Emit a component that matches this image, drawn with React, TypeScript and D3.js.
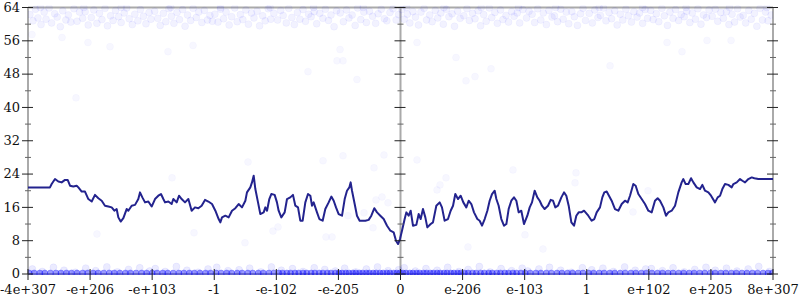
import React from "react";
import * as d3 from "d3";

const xTickLabels = ["-4e+307","-e+206","-e+103","-1","-e-102","-e-205","0","e-206","e-103","1","e+102","e+205","8e+307"];
const yTicks = [0, 8, 16, 24, 32, 40, 48, 56, 64];
const yMinorTicks = [4, 12, 20, 28, 36, 44, 52, 60];

const lineU = [0,0.354,0.381,0.435,0.489,0.542,0.596,0.639,0.677,0.730,0.784,0.811,0.865,0.918,0.972,1.026,1.079,1.133,1.187,1.240,1.294,1.348,1.391,1.428,1.455,1.493,1.536,1.589,1.616,1.670,1.724,1.777,1.804,1.842,1.885,1.938,1.992,2.046,2.099,2.142,2.180,2.207,2.261,2.314,2.341,2.395,2.432,2.475,2.529,2.583,2.636,2.690,2.744,2.797,2.851,2.905,
2.964,3.018,3.071,3.098,3.125,3.179,3.232,3.286,3.340,3.393,3.447,3.501,3.527,3.581,3.608,3.635,3.662,3.705,3.742,3.796,3.823,3.850,3.887,3.919,3.973,4.010,4.037,4.080,4.134,4.172,4.225,4.268,4.306,4.349,4.386,4.424,4.467,4.510,4.548,4.574,4.601,4.655,4.693,4.746,4.789,4.843,4.886,4.924,4.961,5.004,5.058,5.101,5.138,5.176,5.197,5.219,5.262,5.299,5.342,5.380,5.434,5.487,5.530,5.579,5.622,5.675,5.729,5.783,5.837,5.890,5.928,5.960,5.992,
6.024,6.067,6.094,6.132,6.164,6.201,6.255,6.293,6.325,6.362,6.400,6.432,6.486,6.523,6.577,6.631,6.668,6.711,6.765,6.808,6.846,6.883,6.926,6.969,7.012,7.060,7.098,7.141,7.184,7.238,7.275,7.313,7.356,7.399,7.436,7.474,7.517,7.544,7.581,7.624,7.667,7.705,7.742,7.785,7.828,7.866,7.903,7.946,7.989,8.043,8.081,8.118,8.161,8.204,8.242,8.279,8.322,8.376,8.419,8.457,8.494,8.537,8.591,8.634,8.671,8.709,8.752,8.795,8.832,8.870,8.913,8.956,
9.025,9.079,9.122,9.160,9.213,9.251,9.283,9.321,9.358,9.401,9.455,9.509,9.563,9.616,9.659,9.697,9.750,9.788,9.831,9.885,9.938,9.992,10.046,10.099,10.142,10.180,10.234,10.277,10.314,10.368,10.422,10.475,10.529,10.556,10.593,10.636,10.680,10.717,10.771,10.825,10.862,10.905,10.959,11.002,11.066,11.109,11.147,11.184,11.227,11.281,11.335,11.362,11.416,11.469,11.507,11.550,11.603,11.657,11.700,11.764,12];
const lineV = [20.8,20.8,21.6,22.8,22.2,22.0,22.6,22.6,21.2,21.0,21.2,20.8,19.8,19.8,18.0,17.4,19.0,18.2,17.6,16.4,16.2,16.0,15.2,15.6,13.6,12.6,13.4,15.6,15.2,16.4,16.6,18.0,19.6,18.4,17.2,17.4,16.2,18.0,18.8,19.2,18.0,17.2,17.4,16.8,18.0,17.2,18.8,18.0,17.2,18.0,15.2,16.0,15.8,16.4,17.8,17.4,
16.8,15.2,13.2,12.4,13.6,14.0,13.6,15.2,15.8,16.8,16.0,17.6,19.6,20.8,22.0,23.6,20.4,17.2,14.4,14.8,16.0,15.2,18.0,19.2,19.0,17.2,15.2,13.6,14.8,18.0,18.4,19.0,16.4,16.0,12.8,12.8,17.2,19.2,18.8,16.4,17.2,14.8,13.2,12.8,15.6,17.2,18.6,17.6,16.0,14.4,14.0,18.0,20.0,20.8,22.0,20.0,16.8,14.0,12.8,12.8,12.8,13.0,14.0,15.8,14.8,14.0,13.2,11.6,10.4,10.0,8.0,7.2,8.4,
10.4,13.2,14.8,14.0,15.2,11.6,11.8,14.4,13.2,15.6,13.6,11.2,12.0,12.4,16.4,17.2,16.0,12.8,13.2,15.2,16.4,19.2,18.0,18.8,17.2,16.0,17.6,16.8,14.8,13.2,12.8,11.6,13.2,15.2,17.6,19.2,20.0,18.0,16.4,13.2,11.6,12.0,15.6,17.6,18.4,17.6,14.8,15.2,12.0,14.0,16.0,17.2,20.0,18.4,17.6,16.4,15.6,16.4,17.8,17.6,16.0,16.4,18.4,19.6,18.8,16.4,12.4,11.6,14.0,14.8,14.8,15.2,
14.0,12.8,13.2,14.8,16.0,18.4,19.6,19.8,18.8,17.6,15.6,15.2,16.8,17.6,17.2,18.8,21.6,21.2,19.2,18.0,16.8,15.2,14.8,17.6,18.2,17.6,16.0,14.0,14.8,15.2,16.4,19.6,22.0,22.8,21.6,21.6,23.0,22.0,20.8,20.4,21.4,20.0,19.6,18.8,17.2,18.4,18.8,20.4,21.6,21.4,20.8,21.6,22.0,22.8,22.4,22.0,22.8,23.2,23.0,22.8,22.8];

const topU = [0.03,0.08,0.12,0.16,0.21,0.26,0.29,0.34,0.38,0.43,0.47,0.52,0.56,0.61,0.65,0.69,0.74,0.79,0.83,0.88,0.92,0.97,
1.02,1.06,1.11,1.15,1.19,1.24,1.28,1.33,1.37,1.41,1.46,1.5,1.55,1.59,1.63,1.68,1.72,1.77,1.81,1.86,1.9,1.95,1.98,
2.04,2.09,2.13,2.18,2.22,2.27,2.31,2.35,2.4,2.44,2.49,2.53,2.57,2.62,2.66,2.71,2.75,2.8,2.84,2.89,2.93,2.97,
3.01,3.06,3.1,3.15,3.19,3.24,3.28,3.33,3.37,3.42,3.46,3.51,3.55,3.6,3.64,3.69,3.73,3.78,3.82,3.87,3.91,3.96,
4.02,4.07,4.11,4.16,4.2,4.25,4.29,4.34,4.38,4.43,4.47,4.52,4.56,4.61,4.65,4.7,4.75,4.79,4.84,4.88,4.93,4.97,
5.03,5.08,5.13,5.17,5.22,5.27,5.31,5.36,5.41,5.45,5.5,5.55,5.6,5.64,5.69,5.74,5.78,5.83,5.88,5.93,5.97,
6.02,6.06,6.11,6.15,6.2,6.24,6.29,6.33,6.38,6.42,6.47,6.51,6.56,6.6,6.65,6.69,6.74,6.78,6.83,6.87,6.92,6.96,
7.02,7.07,7.11,7.16,7.2,7.25,7.29,7.34,7.38,7.43,7.47,7.52,7.56,7.61,7.65,7.7,7.74,7.79,7.83,7.88,7.92,7.97,
8.03,8.07,8.12,8.16,8.21,8.26,8.3,8.35,8.39,8.44,8.48,8.53,8.58,8.62,8.67,8.71,8.76,8.8,8.85,8.9,8.94,8.98,
9.04,9.09,9.13,9.18,9.22,9.27,9.31,9.36,9.4,9.45,9.49,9.54,9.58,9.63,9.67,9.72,9.76,9.81,9.85,9.9,9.94,9.98,
10.03,10.07,10.12,10.16,10.21,10.25,10.3,10.34,10.39,10.43,10.48,10.52,10.57,10.61,10.66,10.7,10.75,10.79,10.84,10.88,10.93,10.97,
11.02,11.07,11.11,11.16,11.2,11.25,11.29,11.34,11.38,11.43,11.47,11.52,11.56,11.61,11.65,11.7,11.74,11.79,11.83,11.88,11.92,11.97,
0.2,0.9,1.5,2.3,3.1,3.9,4.6,5.4,6.1,6.7,7.3,7.9,8.5,9.2,9.9,10.6,11.3,11.9];
const topV = [62.3,60.8,63.6,61.5,59.9,62.9,61.2,63.9,60.3,62.5,61.7,59.4,63.2,61.0,62.2,60.5,63.7,60.7,62.9,61.4,63.0,59.8,
61.6,63.4,60.2,62.6,61.1,63.8,59.6,62.0,60.9,63.3,61.8,60.4,62.7,63.9,61.3,59.9,62.4,60.8,63.5,61.9,60.1,62.8,61.2,
63.1,61.4,59.7,62.6,60.6,63.7,61.9,60.2,62.8,61.1,63.5,59.5,62.2,60.9,63.8,61.6,62.9,60.4,63.3,61.0,62.1,60.7,
62.4,60.5,63.6,61.3,62.9,59.8,61.8,63.9,60.6,62.3,61.1,63.4,60.0,62.7,61.5,63.1,59.6,62.0,60.8,63.7,61.2,62.6,
61.0,63.3,62.1,60.3,63.8,61.6,59.9,62.8,61.2,63.5,60.7,62.4,61.8,63.0,60.1,62.6,61.4,63.6,60.9,62.2,59.4,63.2,
62.7,60.6,63.4,61.5,62.2,59.7,63.9,61.1,62.9,60.4,63.1,61.9,60.2,62.5,63.6,61.3,60.8,62.8,63.7,61.0,62.3,
63.5,61.2,62.4,60.3,63.0,61.7,59.8,62.9,63.8,61.0,62.2,60.6,63.3,61.5,62.7,60.0,63.6,61.8,62.5,59.5,63.1,61.4,
62.0,63.7,60.9,62.6,61.3,63.2,59.6,62.3,60.7,63.9,61.6,62.8,60.2,63.4,61.1,62.1,60.5,63.0,61.9,62.7,60.3,63.5,
61.5,63.1,62.4,60.4,63.7,61.0,62.7,59.9,63.3,61.7,62.0,60.6,63.6,61.2,62.9,60.1,63.0,61.8,59.7,62.5,63.8,60.9,
62.6,60.3,63.4,61.6,62.1,63.9,60.8,62.8,61.3,63.2,59.8,62.4,61.0,63.6,62.0,60.5,63.0,61.7,62.7,60.2,63.5,61.4,
63.3,61.1,62.5,60.6,63.8,62.0,59.7,62.9,61.4,63.5,60.9,62.3,61.8,63.1,60.4,62.7,61.2,63.7,60.0,62.2,61.6,63.4,
61.9,63.6,60.7,62.8,61.4,63.0,59.9,62.4,60.5,63.7,61.7,62.1,60.3,63.3,61.2,62.6,59.5,63.8,61.0,62.9,60.8,62.2,
64,64,64,64,64,64,64,64,64,64,64,64,64,64,64,64,64,64];

const midU = [3.544,4.752,5.074,5.734,5.573,5.605,5.702,5.799,5.412,5.154,5.557,3.946,4.027,3.495,4.800,4.897,6.266,6.733,6.636,6.588,7.812,8.827,8.811,8.005,7.087,8.295,5.026,4.977,5.074,4.510,5.299,6.266,6.894,7.458,7.200,7.055,9.375,10.534,10.937,11.324,10.293,0.064,0.548,0.966,1.321,2.255,0.773,2.658,1.111,2.674,2.320,9.987,9.745];
const midV = [26.9,27.2,28.4,28.6,25.5,17.8,18.5,17.1,14.7,14.0,11.1,10.3,11.3,7.5,8.9,8.9,27.4,23.1,21.4,20.2,25.0,24.3,21.9,9.4,6.5,6.0,53.9,51.2,51.2,48.6,46.7,55.6,52.0,49.3,47.4,46.4,50.0,53.4,56.1,56.1,55.6,57.5,56.8,55.6,54.6,53.4,42.3,54.9,9.6,9.9,23.1,20.0,14.9];

const lowU = [0.07,0.23,0.41,0.58,0.76,0.93,1.09,1.27,1.44,1.62,1.8,1.96,2.05,2.21,2.39,2.56,2.74,2.9,3.04,3.22,3.4,3.57,3.75,3.92,4.08,4.26,4.43,4.61,4.78,4.95,5.1,5.28,5.45,5.63,5.8,5.97,6.06,6.24,6.41,6.59,6.76,6.94,7.09,7.27,7.44,7.62,7.79,7.96,8.05,8.23,8.4,8.58,8.75,8.93,9.08,9.26,9.43,9.61,9.78,9.95,10.04,10.22,10.39,10.57,10.74,10.92,11.07,11.25,11.42,11.6,11.77,11.94];
const lowV = [1.2,0.6,1.6,0.9,0.4,1.4,0.8,1.7,0.5,1.1,1.5,0.7,1.3,0.6,1.8,0.9,0.4,1.2,1.6,0.8,1.0,1.4,0.5,1.7,0.9,1.3,0.6,1.5,1.1,0.7,1.4,0.5,1.2,1.7,0.8,1.0,1.5,0.7,1.3,0.9,1.6,0.6,1.1,1.8,0.5,1.3,0.8,1.4,0.7,1.2,1.6,0.9,0.4,1.5,1.0,1.4,0.6,1.7,0.9,1.2,1.3,0.8,1.5,0.5,1.1,1.6,0.9,1.4,0.7,1.2,1.8,0.6];

const zeroU = [0.02,0.1,0.19,0.27,0.36,0.45,0.53,0.62,0.7,0.79,0.88,0.96,
1.05,1.13,1.22,1.31,1.39,1.48,1.57,1.65,1.74,1.83,1.91,
2.0,2.08,2.17,2.25,2.34,2.43,2.51,2.6,2.68,2.77,2.86,2.94,
3.03,3.11,3.2,3.28,3.37,3.45,3.54,3.62,3.71,3.79,3.88,3.96,
4.04,4.1,4.17,4.23,4.3,4.36,4.43,4.49,4.56,4.62,4.69,4.75,4.82,4.88,4.95,
5.01,5.06,5.12,5.17,5.23,5.28,5.34,5.39,5.45,5.5,5.56,5.61,5.67,5.72,5.78,5.83,5.89,5.94,5.99,
6.04,6.09,6.15,6.2,6.26,6.31,6.37,6.42,6.48,6.53,6.59,6.64,6.7,6.75,6.81,6.86,6.92,6.97,
7.03,7.09,7.16,7.22,7.29,7.35,7.42,7.48,7.55,7.61,7.68,7.74,7.81,7.87,7.94,
8.01,8.09,8.18,8.26,8.35,8.43,8.52,8.6,8.69,8.77,8.86,8.94,
9.03,9.11,9.2,9.28,9.37,9.45,9.54,9.62,9.71,9.79,9.88,9.96,
10.05,10.14,10.22,10.31,10.39,10.48,10.56,10.65,10.73,10.82,10.9,10.99,
11.07,11.16,11.24,11.33,11.41,11.5,11.58,11.67,11.75,11.84,11.92,11.99];

const W = 800, H = 300;
const X0 = 28, X1 = 773, Y0 = 274, Y1 = 7.5;
const FONT = "'DejaVu Serif', serif";

export default function App() {
  const x = d3.scaleLinear().domain([0, 12]).range([X0, X1]);
  const y = d3.scaleLinear().domain([0, 64]).range([Y0, Y1]);
  const line = d3.line<number>().x((_, i) => x(lineU[i])).y((v) => y(v)).curve(d3.curveLinear);
  const gray = "#aaaaaa";
  const dotColor = "#0000ff";
  const vAxes = [0, 6, 12];
  return (
    <svg width={W} height={H} style={{ position: "absolute", left: 0, top: 0, background: "#fff" }}>
      <defs>
        <clipPath id="plotclip">
          <rect x={X0} y={Y1 - 2} width={X1 - X0} height={Y0 - Y1 + 3} />
        </clipPath>
      </defs>
      {/* frame */}
      <line x1={x(0)} x2={x(12)} y1={y(64)} y2={y(64)} stroke={gray} strokeWidth={2} />
      <line x1={x(0)} x2={x(12)} y1={y(0)} y2={y(0)} stroke={gray} strokeWidth={2} />
      {vAxes.map((u) => (
        <line key={"va" + u} x1={x(u)} x2={x(u)} y1={y(0)} y2={y(64)} stroke={gray} strokeWidth={2} />
      ))}
      <g clipPath="url(#plotclip)">
        {topU.map((u, i) => (
          <circle key={"t" + i} cx={x(u)} cy={y(topV[i])} r={3.5} fill={dotColor} fillOpacity={0.05} stroke={dotColor} strokeOpacity={0.035} />
        ))}
        {midU.map((u, i) => (
          <circle key={"m" + i} cx={x(u)} cy={y(midV[i])} r={3.5} fill={dotColor} fillOpacity={0.03} stroke={dotColor} strokeOpacity={0.02} />
        ))}
        {lowU.map((u, i) => (
          <circle key={"l" + i} cx={x(u)} cy={y(lowV[i])} r={3.5} fill={dotColor} fillOpacity={0.08} stroke={dotColor} strokeOpacity={0.05} />
        ))}
        {zeroU.map((u, i) => (
          <circle key={"z" + i} cx={x(u)} cy={y(0) - 1} r={3} fill={dotColor} fillOpacity={0.4} stroke={dotColor} strokeOpacity={0.25} />
        ))}
      </g>
      <path d={line(lineV) || ""} fill="none" stroke="#23238e" strokeWidth={2} strokeLinejoin="round" />
      {/* y ticks on vertical axes */}
      {vAxes.map((u) => (
        <g key={"vt" + u}>
          {yTicks.map((t) => (
            <line key={"M" + t} x1={x(u) - 6} x2={x(u) + 5} y1={y(t)} y2={y(t)} stroke="#222" strokeWidth={1} />
          ))}
          {yMinorTicks.map((t) => (
            <line key={"m" + t} x1={x(u) - 3} x2={x(u) + 3} y1={y(t)} y2={y(t)} stroke="#666" strokeWidth={1} />
          ))}
        </g>
      ))}
      {yTicks.map((t) => (
        <text key={"yl" + t} x={x(0) - 8} y={y(t)} dy="0.32em" textAnchor="end" fontFamily={FONT} fontSize={13} fill="#111">{t}</text>
      ))}
      {xTickLabels.map((lab, i) => (
        <g key={"xt" + i}>
          <line x1={x(i)} x2={x(i)} y1={y(0) - 5} y2={y(0) + 6} stroke="#222" strokeWidth={1} />
          <text x={x(i)} y={294} textAnchor="middle" fontFamily={FONT} fontSize={13} fill="#111">{lab}</text>
        </g>
      ))}
    </svg>
  );
}
